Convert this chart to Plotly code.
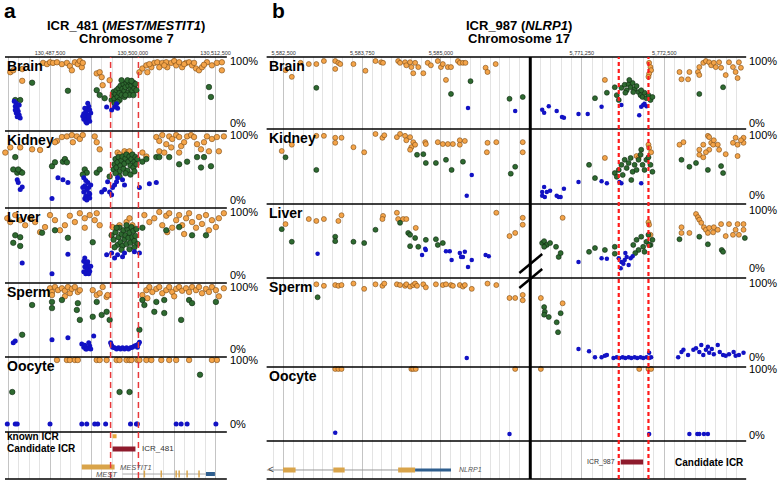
import plotly.graph_objects as go

# ---------------- panel a: ICR_481 (MEST/MESTIT1), chr7 ----------------
# points are (position in kb, methylation %)
A_BRAIN_HIGH = [(130481.5, 82), (130481.95, 85), (130483.3, 87), (130483.3, 68), (130486.45, 97), (130487.05, 95),
                (130487.5, 98), (130487.95, 97), (130488.55, 98), (130489.3, 95), (130490.05, 97), (130490.5, 92),
                (130490.8, 85), (130491.25, 98), (130491.7, 95), (130492.0, 100), (130492.3, 90), (130492.45, 97),
                (130494.55, 80), (130495.0, 82), (130495.3, 74), (130495.45, 61), (130496.5, 69),
                (130501.0, 82), (130501.45, 88), (130502.05, 93), (130502.2, 82), (130502.8, 90), (130503.25, 97),
                (130503.7, 98), (130504.0, 90), (130504.45, 97), (130505.05, 98), (130505.2, 90), (130505.8, 97),
                (130506.25, 100), (130506.55, 93), (130507.0, 98), (130507.45, 90), (130508.05, 97), (130508.5, 98),
                (130508.95, 93), (130509.55, 88), (130510.0, 85), (130510.45, 90), (130511.2, 98), (130511.95, 93),
                (130512.7, 97), (130513.45, 98), (130513.45, 85), (130502.5, 95), (130504.75, 93), (130507.75, 95),
                (130509.25, 97), (130510.75, 94)]
A_BRAIN_MID = [(130484.8, 65), (130490.2, 52), (130494.55, 53), (130495.0, 45), (130495.75, 40), (130482.25, 37),
               (130483.0, 37), (130511.5, 58), (130511.8, 42),
               (130496.8, 37), (130496.95, 44), (130497.1, 50), (130497.25, 39), (130497.4, 47), (130497.55, 53),
               (130497.7, 42), (130497.85, 56), (130498.0, 48), (130498.15, 60), (130498.3, 45), (130498.45, 55),
               (130498.6, 63), (130498.75, 52), (130498.9, 58), (130499.05, 65), (130499.2, 48), (130499.35, 60),
               (130499.5, 66), (130499.65, 55), (130499.8, 61), (130499.95, 52), (130500.1, 65), (130500.25, 56),
               (130500.4, 63), (130500.55, 53), (130498.0, 37), (130498.75, 42), (130499.5, 45), (130497.25, 32),
               (130497.7, 34), (130499.2, 69), (130499.8, 68), (130498.3, 69), (130498.9, 45), (130500.1, 45)]
A_BRAIN_LOW = [(130482.1, 35), (130482.4, 32), (130482.25, 27), (130482.55, 24), (130482.7, 19), (130482.4, 16),
               (130482.85, 13), (130482.55, 10), (130483.0, 8), (130482.25, 21), (130482.85, 29),
               (130493.2, 32), (130493.35, 27), (130493.05, 23), (130492.9, 18), (130493.5, 21), (130492.6, 15),
               (130493.2, 13), (130492.75, 10), (130493.35, 8), (130493.05, 5), (130492.9, 2), (130493.5, 3),
               (130492.6, 6), (130493.65, 16), (130492.75, 24), (130493.05, 0), (130493.35, 11), (130492.45, 11),
               (130496.05, 26), (130496.8, 21), (130497.25, 26), (130497.55, 31), (130497.7, 24)]

A_KIDNEY_HIGH = [(130488.55, 91), (130489.3, 97), (130490.05, 98), (130490.8, 100), (130491.55, 98), (130492.0, 94),
                 (130492.45, 100), (130490.95, 89), (130480.75, 73), (130481.5, 81), (130483.0, 81), (130484.8, 78),
                 (130486.0, 77), (130488.25, 89), (130494.25, 98), (130494.55, 89), (130495.0, 78), (130497.7, 73),
                 (130498.75, 75), (130499.2, 73), (130498.0, 70), (130499.5, 75), (130499.95, 67), (130501.45, 73),
                 (130502.05, 67), (130503.55, 97), (130504.0, 91), (130504.45, 100), (130505.05, 86), (130505.5, 98),
                 (130505.95, 94), (130506.55, 100), (130507.0, 97), (130507.3, 83), (130507.75, 89), (130508.2, 98),
                 (130508.8, 100), (130509.25, 97), (130509.7, 86), (130510.3, 78), (130510.75, 89), (130511.2, 98),
                 (130511.5, 75), (130511.95, 94), (130512.7, 97), (130513.0, 75), (130513.75, 98), (130504.0, 75),
                 (130504.75, 73), (130505.8, 81), (130507.0, 73)]
A_KIDNEY_MID = [(130482.25, 66), (130481.95, 47), (130482.55, 42), (130483.0, 44), (130483.3, 42), (130482.7, 47),
                (130487.8, 52), (130488.25, 58), (130489.45, 59), (130489.75, 63), (130490.05, 58), (130492.75, 47),
                (130493.05, 42), (130492.45, 39), (130494.55, 42), (130495.0, 47), (130496.5, 36),
                (130497.1, 47), (130497.25, 55), (130497.4, 63), (130497.55, 50), (130497.7, 58), (130497.85, 66),
                (130498.0, 44), (130498.15, 53), (130498.3, 61), (130498.45, 67), (130498.6, 48), (130498.75, 56),
                (130498.9, 64), (130499.05, 70), (130499.2, 45), (130499.35, 59), (130499.5, 67), (130499.65, 53),
                (130499.8, 63), (130499.95, 70), (130500.1, 50), (130500.25, 59), (130500.4, 66), (130500.55, 55),
                (130500.7, 63), (130498.9, 41), (130498.0, 36), (130499.65, 39), (130500.25, 44), (130497.4, 41),
                (130501.45, 59), (130502.05, 63), (130503.55, 66), (130504.0, 66), (130505.5, 66), (130507.0, 55),
                (130508.2, 59), (130509.7, 66), (130510.3, 50), (130510.75, 66), (130511.8, 52)]
A_KIDNEY_LOW = [(130482.55, 31), (130482.7, 27), (130483.3, 20), (130483.0, 16), (130487.8, 2), (130488.7, 34),
                (130489.45, 31), (130490.2, 27), (130492.6, 34), (130492.9, 30), (130493.2, 27), (130492.75, 22),
                (130493.35, 19), (130493.05, 16), (130492.6, 12), (130493.5, 9), (130492.9, 6), (130493.2, 3),
                (130492.75, 2), (130493.65, 23), (130493.35, 11), (130493.05, 0), (130492.45, 19), (130493.5, 3),
                (130495.3, 12), (130495.75, 16), (130496.2, 28), (130496.5, 12), (130496.8, 8), (130496.95, 19),
                (130497.25, 23), (130497.55, 28), (130497.7, 34), (130498.45, 31), (130498.75, 23), (130501.0, 19),
                (130502.5, 25), (130503.55, 27)]

A_LIVER_HIGH = [(130481.05, 90), (130481.5, 84), (130482.25, 95), (130483.0, 87), (130483.75, 79), (130484.5, 90),
                (130485.25, 84), (130486.75, 76), (130488.25, 87), (130489.75, 79), (130490.5, 94), (130491.25, 84),
                (130492.0, 98), (130492.75, 90), (130493.5, 95), (130494.25, 87), (130494.55, 98), (130495.0, 79),
                (130489.0, 71), (130486.0, 68), (130487.5, 95), (130492.75, 75), (130496.95, 76), (130498.0, 79),
                (130499.05, 84), (130499.95, 79), (130499.5, 90), (130501.75, 95), (130502.5, 84), (130503.25, 90),
                (130504.0, 100), (130504.45, 79), (130505.05, 94), (130505.5, 98), (130505.95, 75), (130506.55, 87),
                (130507.0, 95), (130507.45, 79), (130508.05, 90), (130508.5, 98), (130508.95, 84), (130509.55, 75),
                (130510.0, 92), (130510.45, 81), (130511.05, 95), (130511.5, 71), (130511.95, 87), (130512.55, 76),
                (130513.0, 90), (130513.75, 98), (130505.2, 68), (130507.75, 65)]
A_LIVER_MID = [(130482.25, 63), (130483.0, 60), (130481.95, 51), (130483.0, 46), (130486.3, 67), (130488.25, 71),
               (130490.2, 59), (130493.95, 52),
               (130496.8, 63), (130497.1, 56), (130497.4, 68), (130497.7, 48), (130497.85, 60), (130498.0, 75),
               (130498.15, 52), (130498.3, 65), (130498.45, 46), (130498.6, 71), (130498.75, 57), (130498.9, 63),
               (130499.05, 49), (130499.2, 73), (130499.35, 59), (130499.5, 67), (130499.65, 51), (130499.8, 76),
               (130499.95, 60), (130500.1, 70), (130500.25, 54), (130500.4, 62), (130500.55, 73), (130500.7, 49),
               (130497.25, 44), (130498.3, 40), (130499.5, 41), (130497.55, 75), (130499.05, 79), (130500.25, 44),
               (130501.45, 75), (130505.05, 71), (130507.0, 76), (130508.95, 63), (130511.05, 63)]
A_LIVER_LOW = [(130483.3, 19), (130487.8, 2), (130490.2, 33), (130492.6, 22), (130492.9, 19), (130493.2, 16),
               (130492.75, 13), (130493.35, 11), (130493.05, 8), (130492.6, 5), (130493.5, 6), (130492.9, 2),
               (130493.2, 21), (130493.65, 14), (130492.75, 27), (130493.35, 2), (130496.05, 32), (130496.8, 35),
               (130497.25, 27), (130497.7, 32), (130498.45, 29), (130498.75, 35), (130500.25, 37), (130501.0, 35)]

A_SPERM_HIGH = [(130487.5, 98), (130487.8, 92), (130488.25, 100), (130488.7, 95), (130489.3, 98), (130489.75, 94),
                (130490.2, 100), (130490.5, 90), (130490.8, 97), (130491.25, 100), (130491.7, 92), (130492.0, 95),
                (130487.8, 87), (130489.75, 85), (130493.95, 95), (130494.55, 87), (130495.0, 90), (130495.45, 100),
                (130496.05, 84), (130496.2, 87), (130501.45, 87), (130502.05, 95), (130502.5, 100), (130502.95, 92),
                (130503.55, 97), (130504.0, 100), (130504.45, 90), (130505.05, 95), (130505.5, 100), (130505.95, 92),
                (130506.55, 97), (130507.0, 100), (130507.45, 94), (130508.05, 98), (130508.5, 92), (130508.95, 100),
                (130509.55, 95), (130510.0, 100), (130510.45, 90), (130511.05, 97), (130511.5, 92), (130511.95, 100),
                (130512.55, 95), (130513.0, 85), (130513.75, 98), (130502.2, 82), (130506.25, 85)]
A_SPERM_MID = [(130484.8, 71), (130487.8, 76), (130487.8, 66), (130489.3, 79), (130491.7, 74), (130491.55, 63),
               (130492.0, 47), (130493.95, 52), (130494.55, 76), (130495.3, 55), (130496.05, 60), (130496.5, 47),
               (130483.3, 23), (130501.45, 79), (130501.75, 71), (130503.55, 76), (130503.25, 60), (130504.75, 79),
               (130504.75, 58), (130507.3, 47), (130508.5, 79), (130508.95, 74), (130512.55, 76), (130501.0, 31)]
A_SPERM_LOW = [(130481.95, 10), (130482.25, 13), (130487.8, 15), (130490.2, 18), (130494.1, 21),
               (130492.3, 8), (130492.6, 3), (130492.9, 0), (130493.2, 2), (130493.5, 5), (130492.75, 6),
               (130493.35, 10), (130493.05, 0), (130493.65, 0),
               (130496.65, 10), (130496.95, 3), (130497.25, 2), (130497.55, 0), (130497.85, 2), (130498.15, 0),
               (130498.45, 2), (130498.75, 0), (130499.05, 2), (130499.35, 0), (130499.65, 2), (130499.95, 3),
               (130500.25, 5), (130500.55, 6), (130500.85, 8), (130501.0, 11), (130496.8, 6), (130500.7, 3)]

A_OOCYTE_HIGH = [(130488.55, 100), (130490.05, 100), (130490.5, 100), (130491.25, 100), (130491.7, 100),
                 (130494.55, 100), (130495.0, 100), (130496.05, 100), (130497.55, 100), (130498.0, 100),
                 (130499.05, 100), (130499.5, 100), (130499.8, 100), (130500.7, 100), (130501.0, 100),
                 (130502.05, 100), (130502.8, 100), (130504.3, 100), (130505.5, 100), (130506.55, 100),
                 (130508.5, 100), (130511.95, 100), (130512.7, 100)]
A_OOCYTE_MID = [(130481.8, 50), (130498.0, 50), (130499.5, 50), (130510.15, 77)]
A_OOCYTE_LOW = [(130481.05, 0), (130482.25, 0), (130482.55, 0), (130487.5, 0), (130492.3, 0), (130493.05, 0),
                (130494.25, 0), (130494.7, 0), (130495.9, 0), (130499.65, 0), (130500.55, 0), (130500.7, 0),
                (130506.55, 0), (130507.3, 0), (130508.2, 0), (130512.55, 0)]

A_RANGE = [130480.7, 130514.2]
A_GRID = [130481.25, 130487.5, 130493.75, 130500.0, 130506.25, 130512.5]
A_TICKS = {130487.5: '130,487,500', 130500.0: '130,500,000', 130512.5: '130,512,500'}
A_ICR_BOUNDS = [130496.65, 130500.85]
A_KNOWN_ICR = [130496.95, 130497.55]
A_CANDIDATE_ICR = [130496.95, 130500.4]
MESTIT1 = [130492.3, 130497.25]
MEST = [130498.45, 130512.55]
MEST_EXONS = [130501.75, 130504.3, 130506.55, 130507.0, 130508.2, 130510.0]
MEST_UTR = [130511.05, 130512.4]

# ---------------- panel b: ICR_987 (NLRP1), chr17 ----------------
B_BRAIN_HIGH = [(5582.53, 85), (5582.63, 74), (5582.77, 97), (5582.90, 95), (5583.02, 95), (5583.14, 100),
                (5583.32, 100), (5583.32, 87), (5583.37, 97), (5583.40, 95), (5583.61, 95), (5583.80, 84),
                (5583.96, 100), (5584.05, 98), (5584.08, 97), (5584.32, 100), (5584.35, 97), (5584.43, 98),
                (5584.45, 93), (5584.51, 98), (5584.53, 90), (5584.56, 80), (5584.59, 97), (5584.64, 90),
                (5584.72, 80), (5584.79, 97), (5584.84, 93), (5584.95, 100), (5585.00, 90), (5585.03, 95),
                (5585.11, 90), (5585.16, 90), (5585.08, 69), (5585.27, 100), (5585.30, 97), (5585.35, 97),
                (5585.39, 97), (5585.71, 89), (5585.74, 82), (5585.87, 95),
                (5771.60, 69), (5772.27, 97), (5772.29, 90), (5772.30, 85), (5772.27, 79), (5772.26, 74),
                (5772.73, 82), (5772.76, 70), (5772.86, 70), (5772.88, 82), (5773.01, 82), (5773.03, 90),
                (5773.09, 97), (5773.13, 100), (5773.18, 98), (5773.21, 93), (5773.25, 97), (5773.28, 90),
                (5773.33, 98), (5773.36, 89), (5773.48, 98), (5773.54, 90), (5773.58, 82), (5773.61, 72),
                (5773.63, 98), (5773.66, 89), (5773.43, 77), (5773.03, 77)]
B_BRAIN_MID = [(5583.02, 56), (5585.16, 46), (5585.47, 67), (5586.09, 38), (5586.30, 41),
               (5771.45, 39), (5771.63, 48), (5771.75, 57), (5771.78, 44), (5771.81, 36), (5771.85, 56),
               (5771.90, 61), (5771.93, 52), (5771.96, 62), (5771.99, 57), (5772.02, 64), (5772.05, 54),
               (5772.08, 59), (5772.11, 49), (5772.14, 44), (5772.17, 41), (5772.20, 48), (5772.23, 39),
               (5772.26, 44), (5772.29, 36), (5772.32, 41), (5771.91, 48), (5772.03, 49), (5772.15, 52),
               (5771.97, 69), (5773.03, 46), (5773.39, 57)]
B_BRAIN_LOW = [(5585.43, 23), (5586.18, 18), (5770.65, 20), (5770.68, 15), (5770.75, 26), (5770.87, 18),
               (5770.95, 8), (5770.98, 7), (5771.20, 13), (5771.34, 13), (5771.55, 25), (5771.85, 28),
               (5772.12, 11), (5772.15, 25), (5772.18, 28), (5772.20, 30), (5772.23, 26)]

B_KIDNEY_HIGH = [(5582.47, 73), (5582.63, 83), (5583.02, 97), (5583.14, 97), (5583.32, 94), (5583.32, 86),
                 (5583.42, 94), (5583.61, 79), (5583.78, 71), (5583.96, 100), (5584.07, 94), (5584.10, 98),
                 (5584.30, 95), (5584.35, 100), (5584.43, 97), (5584.45, 90), (5584.51, 95), (5584.56, 87),
                 (5584.53, 79), (5584.51, 75), (5584.59, 83), (5584.75, 87), (5584.76, 84), (5584.95, 87),
                 (5585.03, 84), (5585.11, 84), (5585.19, 84), (5585.30, 90), (5585.30, 83), (5585.38, 89),
                 (5585.74, 86), (5585.73, 71), (5585.88, 87), (5586.30, 87), (5586.30, 71),
                 (5771.60, 62), (5772.08, 65), (5772.11, 62), (5772.26, 83), (5772.27, 78), (5772.30, 71),
                 (5772.73, 83), (5772.79, 87), (5773.03, 67), (5773.09, 83), (5773.16, 97), (5773.18, 95),
                 (5773.21, 86), (5773.24, 83), (5773.25, 90), (5773.31, 83), (5773.18, 75), (5773.13, 71),
                 (5773.33, 75), (5773.43, 68), (5773.54, 86), (5773.58, 94), (5773.61, 83), (5773.61, 65),
                 (5773.70, 94), (5773.70, 86), (5773.66, 90), (5773.09, 63), (5773.03, 75)]
B_KIDNEY_MID = [(5582.53, 63), (5583.02, 43), (5584.62, 67), (5584.72, 68), (5584.76, 54), (5584.92, 54),
                (5585.08, 59), (5585.17, 43), (5585.35, 56), (5586.11, 37), (5586.18, 48),
                (5771.36, 51), (5771.45, 30), (5771.75, 38), (5771.78, 32), (5771.81, 43), (5771.85, 51),
                (5771.90, 59), (5771.93, 46), (5771.96, 54), (5771.99, 62), (5772.02, 40), (5772.05, 51),
                (5772.08, 43), (5772.11, 59), (5772.14, 67), (5772.17, 51), (5772.20, 43), (5772.23, 59),
                (5772.26, 63), (5772.29, 51), (5772.32, 40), (5771.87, 35), (5772.00, 27), (5772.15, 75),
                (5772.76, 59), (5772.88, 48), (5772.98, 54), (5773.16, 43), (5773.36, 49), (5773.39, 38)]
B_KIDNEY_LOW = [(5585.41, 2), (5585.49, 35), (5770.65, 8), (5770.68, 16), (5770.72, 8), (5770.69, 0),
                (5770.77, 10), (5770.65, 2), (5770.87, 2), (5770.90, 0), (5770.93, 0), (5770.98, 13),
                (5771.20, 24), (5771.55, 25), (5771.63, 22), (5771.82, 24), (5771.85, 22), (5772.15, 22)]

B_LIVER_HIGH = [(5582.53, 76), (5582.90, 84), (5583.02, 81), (5583.14, 84), (5583.37, 81), (5583.42, 90),
                (5584.08, 89), (5584.07, 84), (5584.30, 94), (5584.32, 84), (5584.40, 84), (5584.45, 84),
                (5584.60, 70), (5585.88, 94), (5586.09, 57), (5586.18, 62), (5586.30, 86), (5586.30, 75),
                (5770.96, 86), (5772.26, 79), (5772.27, 75), (5772.29, 59), (5772.98, 92), (5773.01, 87),
                (5773.03, 83), (5773.06, 78), (5773.10, 71), (5773.13, 67), (5773.16, 62), (5773.18, 70),
                (5773.24, 63), (5773.25, 71), (5773.31, 67), (5773.43, 57), (5773.48, 76), (5773.54, 59),
                (5773.58, 67), (5773.61, 76), (5773.63, 59), (5773.70, 76), (5773.70, 67), (5772.76, 71),
                (5772.88, 62), (5772.76, 62), (5773.36, 76)]
B_LIVER_MID = [(5582.47, 68), (5582.63, 48), (5583.32, 56), (5583.32, 49), (5583.61, 48), (5583.78, 46),
               (5583.96, 67), (5584.35, 78), (5584.48, 62), (5584.51, 59), (5584.51, 41), (5584.59, 54),
               (5584.64, 40), (5584.76, 51), (5584.92, 52), (5584.95, 43), (5585.03, 46),
               (5770.65, 46), (5770.68, 49), (5770.72, 43), (5770.77, 46), (5770.68, 40), (5770.86, 40),
               (5770.90, 24), (5770.93, 30), (5771.36, 32), (5771.45, 38), (5771.60, 35), (5771.75, 40),
               (5771.75, 29), (5772.03, 43), (5772.08, 51), (5772.11, 35), (5772.15, 56), (5772.18, 40),
               (5772.23, 48), (5772.26, 59), (5772.29, 43), (5772.32, 51), (5772.06, 30), (5772.20, 32),
               (5772.27, 43), (5772.73, 52), (5773.03, 56), (5773.16, 44), (5773.37, 35), (5773.39, 32),
               (5773.72, 54)]
B_LIVER_LOW = [(5583.04, 29), (5584.70, 27), (5584.75, 37), (5584.76, 35), (5585.08, 33), (5585.14, 33),
               (5585.17, 19), (5585.30, 30), (5585.32, 24), (5585.35, 24), (5585.38, 32), (5585.43, 8),
               (5585.49, 19), (5585.71, 27), (5585.76, 25),
               (5771.20, 16), (5771.55, 22), (5771.63, 21), (5771.81, 22), (5771.85, 16), (5771.90, 19),
               (5771.93, 24), (5771.96, 11), (5771.84, 6), (5771.88, 13), (5771.99, 22), (5772.02, 25),
               (5771.91, 30)]

B_SPERM_HIGH = [(5583.02, 97), (5583.14, 95), (5583.32, 96), (5583.37, 95), (5583.42, 96), (5583.61, 98),
                (5583.78, 91), (5583.96, 97), (5584.07, 95), (5584.10, 98), (5584.30, 97), (5584.35, 96),
                (5584.43, 95), (5584.45, 97), (5584.51, 94), (5584.56, 96), (5584.59, 98), (5584.62, 95),
                (5584.72, 97), (5584.76, 93), (5584.92, 97), (5585.03, 96), (5585.08, 97), (5585.16, 96),
                (5585.19, 95), (5585.30, 96), (5585.35, 94), (5585.38, 96), (5585.49, 91), (5585.74, 98),
                (5585.88, 96), (5586.09, 79), (5586.18, 79), (5586.30, 83), (5586.30, 76), (5770.63, 79),
                (5770.96, 72)]
B_SPERM_MID = [(5583.04, 80), (5770.68, 67), (5770.69, 61), (5770.68, 57), (5770.75, 54), (5770.87, 47),
               (5770.89, 34), (5770.93, 59)]
B_SPERM_LOW = [(5585.41, 0), (5771.20, 12), (5771.36, 9), (5771.45, 1), (5771.55, 1), (5771.60, 3),
               (5771.63, 4), (5771.73, 0), (5771.78, 1), (5771.82, 0), (5771.87, 1), (5771.91, 0), (5771.96, 1),
               (5772.00, 0), (5772.05, 1), (5772.09, 0), (5772.14, 1), (5772.18, 0), (5772.23, 1), (5772.27, 0),
               (5772.30, 1), (5772.27, 7),
               (5772.71, 1), (5772.76, 8), (5772.79, 11), (5772.86, 4), (5772.94, 11), (5772.98, 13),
               (5773.03, 8), (5773.06, 17), (5773.09, 4), (5773.13, 11), (5773.16, 15), (5773.18, 7),
               (5773.22, 12), (5773.25, 5), (5773.31, 17), (5773.34, 8), (5773.39, 4), (5773.43, 3),
               (5773.48, 5), (5773.55, 8), (5773.58, 3), (5773.63, 4), (5773.70, 7)]

B_OOCYTE_HIGH = [(5583.32, 100), (5583.37, 100), (5583.42, 100), (5584.53, 100), (5584.56, 100), (5584.60, 100),
                 (5586.18, 100), (5770.63, 100), (5772.12, 100), (5772.26, 100), (5772.30, 100)]
B_OOCYTE_MID = []
B_OOCYTE_LOW = [(5583.32, 2), (5586.09, 0), (5772.27, 0), (5772.88, 0), (5773.00, 0), (5773.03, 0),
                (5773.10, 0), (5773.16, 0)]

B_LEFT_RANGE = [5582.23, 5586.42]
B_RIGHT_RANGE = [5770.47, 5773.74]
B_TICKS = {5582.5: '5,582,500', 5583.75: '5,583,750', 5585.0: '5,585,000',
           5771.25: '5,771,250', 5772.5: '5,772,500'}
B_ICR_BOUNDS = [5771.81, 5772.26]
B_CANDIDATE_ICR = [5771.84, 5772.18]
NLRP1 = [5582.23, 5585.16]
NLRP1_EXONS = [[5582.49, 5582.69], [5583.29, 5583.47], [5584.32, 5584.59]]
NLRP1_UTR = [5584.59, 5585.16]

TISSUES = ['Brain', 'Kidney', 'Liver', 'Sperm', 'Oocyte']
A_DATA = {'Brain': (A_BRAIN_HIGH, A_BRAIN_MID, A_BRAIN_LOW),
          'Kidney': (A_KIDNEY_HIGH, A_KIDNEY_MID, A_KIDNEY_LOW),
          'Liver': (A_LIVER_HIGH, A_LIVER_MID, A_LIVER_LOW),
          'Sperm': (A_SPERM_HIGH, A_SPERM_MID, A_SPERM_LOW),
          'Oocyte': (A_OOCYTE_HIGH, A_OOCYTE_MID, A_OOCYTE_LOW)}
B_DATA = {'Brain': (B_BRAIN_HIGH, B_BRAIN_MID, B_BRAIN_LOW),
          'Kidney': (B_KIDNEY_HIGH, B_KIDNEY_MID, B_KIDNEY_LOW),
          'Liver': (B_LIVER_HIGH, B_LIVER_MID, B_LIVER_LOW),
          'Sperm': (B_SPERM_HIGH, B_SPERM_MID, B_SPERM_LOW),
          'Oocyte': (B_OOCYTE_HIGH, B_OOCYTE_MID, B_OOCYTE_LOW)}

# ---------------- layout helpers (pixel positions of the 784x486 page) ----------------
W, H = 784, 486
FONT = 'Liberation Sans, Arial, sans-serif'


def fx(p):
    return p / W


def fy(p):
    return 1 - p / H


A_ROWS = [57, 131, 208, 283, 357, 432, 479]
B_ROWS = [57, 129, 204, 278, 367, 441, 479]
A_YR = [[-12.9, 106.5], [-12.5, 106.3], [-12.7, 106.3], [-12.9, 106.5], [-12.5, 104.7]]
B_YR = [[-11.5, 106.6], [-11.1, 107.9], [-9.5, 107.9], [-11.8, 105.3], [-10.8, 103.0]]
B_LABEL_SHIFT = [(0, -1), (-1, 2), (-1, 4), (-1, 1), (0, -1)]  # (100%, 0%) nudges in px
B_SPLIT = 5700.0

MARK = [dict(color='#f4a449', line=dict(color='#7a4a14', width=0.6)),
        dict(color='#2e6a30', line=dict(color='#0e260f', width=0.6)),
        dict(color='#1212c4', line=dict(color='#1212c4', width=0))]
SIZES_A = [5.5, 5.5, 5]
SIZES_B = [5, 5, 4.5]


def yid(i):
    return 'y' if i == 1 else 'y%d' % i


def ykey(i):
    return 'yaxis' if i == 1 else 'yaxis%d' % i


fig = go.Figure()


def add_points(pts, k, xa, ya, sizes):
    if not pts:
        return
    fig.add_trace(go.Scatter(x=[p[0] for p in pts], y=[p[1] for p in pts], mode='markers',
                             marker=dict(size=sizes[k], **MARK[k]), xaxis=xa, yaxis=ya,
                             cliponaxis=False, showlegend=False, hoverinfo='skip'))


def add_seg(x0, x1, level, color, width, xa, ya):
    fig.add_trace(go.Scatter(x=[x0, x1], y=[level, level], mode='lines', line=dict(color=color, width=width),
                             xaxis=xa, yaxis=ya, showlegend=False, hoverinfo='skip'))


def text(t, xref, x, yref, y, size, xanchor='left', yanchor='middle', color='black', xshift=0, yshift=0):
    return dict(text=t, xref=xref, x=x, yref=yref, y=y, xanchor=xanchor, yanchor=yanchor, xshift=xshift,
                yshift=yshift, showarrow=False, font=dict(size=size, color=color))


layout_axes = {}
shapes = []
ann = []

# panel a rows
for r, t in enumerate(TISSUES):
    i = r + 1
    layout_axes[ykey(i)] = dict(domain=[fy(A_ROWS[r + 1]), fy(A_ROWS[r])], range=A_YR[r], visible=False,
                                anchor='x', fixedrange=True)
    for k, pts in enumerate(A_DATA[t]):
        add_points(pts, k, 'x', yid(i), SIZES_A)
    ann.append(text('<b>%s</b>' % t, 'x domain', 0, '%s domain' % yid(i), 1, 14, yanchor='top', yshift=1))
    ann.append(text('100%', 'x domain', 1, yid(i), 100, 11, xshift=1))
    ann.append(text('0%', 'x domain', 1, yid(i), 0, 11, xshift=1))

# panel b rows
for r, t in enumerate(TISSUES):
    i = r + 7
    layout_axes[ykey(i)] = dict(domain=[fy(B_ROWS[r + 1]), fy(B_ROWS[r])], range=B_YR[r], visible=False,
                                anchor='x2', fixedrange=True)
    for k, pts in enumerate(B_DATA[t]):
        add_points([p for p in pts if p[0] < B_SPLIT], k, 'x2', yid(i), SIZES_B)
        add_points([p for p in pts if p[0] >= B_SPLIT], k, 'x3', yid(i), SIZES_B)
    ann.append(text('<b>%s</b>' % t, 'x2 domain', 0, '%s domain' % yid(i), 1, 14, yanchor='top', yshift=1))
    ann.append(text('100%', 'x3 domain', 1, yid(i), 100, 11, xshift=1, yshift=B_LABEL_SHIFT[r][0]))
    ann.append(text('0%', 'x3 domain', 1, yid(i), 0, 11, xshift=1, yshift=B_LABEL_SHIFT[r][1]))

# gene / ICR tracks
layout_axes['yaxis6'] = dict(domain=[fy(A_ROWS[6]), fy(A_ROWS[5])], range=[0, 1], visible=False,
                             anchor='x', fixedrange=True)
layout_axes['yaxis12'] = dict(domain=[fy(B_ROWS[6]), fy(B_ROWS[5])], range=[0, 1], visible=False,
                              anchor='x2', fixedrange=True)
TAN, RED, BLUE = '#d9a44a', '#8e1b2c', '#2f5f8f'

add_seg(A_KNOWN_ICR[0], A_KNOWN_ICR[1], 0.91, '#e8a83a', 4, 'x', 'y6')
add_seg(A_CANDIDATE_ICR[0], A_CANDIDATE_ICR[1], 0.64, RED, 5, 'x', 'y6')
add_seg(MESTIT1[0], MESTIT1[1], 0.255, TAN, 5, 'x', 'y6')
add_seg(MEST[0], MEST[1], 0.106, '#aaaaaa', 1, 'x', 'y6')
add_seg(MEST_UTR[0], MEST_UTR[1], 0.106, BLUE, 4, 'x', 'y6')
fig.add_trace(go.Scatter(x=MEST_EXONS, y=[0.106] * len(MEST_EXONS), mode='markers',
                         marker=dict(symbol='line-ns', size=5, line=dict(color=TAN, width=1.5)),
                         xaxis='x', yaxis='y6', showlegend=False, hoverinfo='skip'))

add_seg(NLRP1[0], NLRP1[1], 0.237, '#999999', 1, 'x2', 'y12')
for e in NLRP1_EXONS:
    add_seg(e[0], e[1], 0.237, TAN, 5, 'x2', 'y12')
add_seg(NLRP1_UTR[0], NLRP1_UTR[1], 0.237, BLUE, 3, 'x2', 'y12')
add_seg(B_CANDIDATE_ICR[0], B_CANDIDATE_ICR[1], 0.447, RED, 5, 'x3', 'y12')

ann += [
    text('<b>known ICR</b>', 'x domain', 0, 'y6', 0.9, 10),
    text('<b>Candidate ICR</b>', 'x domain', 0, 'y6', 0.64, 10),
    text('ICR_481', 'x', A_CANDIDATE_ICR[1], 'y6', 0.64, 8, color='#333', xshift=5),
    text('<i>MESTIT1</i>', 'x', MESTIT1[1], 'y6', 0.255, 7.5, color='#555', xshift=3),
    text('<i>MEST</i>', 'x', MEST[0], 'y6', 0.106, 7.5, xanchor='right', color='#555', xshift=-3),
    text('ICR_987', 'x3', B_CANDIDATE_ICR[0], 'y12', 0.447, 7, xanchor='right', color='#333', xshift=-4),
    text('<b>Candidate ICR</b>', 'x3 domain', 1, 'y12', 0.447, 10, xanchor='right'),
    text('<i>NLRP1</i>', 'x2', NLRP1_UTR[1], 'y12', 0.237, 7, color='#555', xshift=6),
    text('&lt;', 'x2 domain', 0, 'y12', 0.237, 10, color='#444', xshift=-1),
    # panel letters and titles
    text('<b>a</b>', 'paper', fx(2), 'paper', fy(10), 21),
    text('<b>b</b>', 'paper', fx(271), 'paper', fy(10), 21),
    text('<b>ICR_481 (<i>MEST/MESTIT1</i>)</b>', 'paper', fx(127), 'paper', fy(26), 13, xanchor='center'),
    text('<b>Chromosome 7</b>', 'paper', fx(127), 'paper', fy(38.5), 13, xanchor='center'),
    text('<b>ICR_987 (<i>NLRP1</i>)</b>', 'paper', fx(522), 'paper', fy(26), 13, xanchor='center'),
    text('<b>Chromosome 17</b>', 'paper', fx(522), 'paper', fy(38.5), 13, xanchor='center'),
]

# row borders
for b in A_ROWS:
    shapes.append(dict(type='line', xref='paper', x0=fx(5), x1=fx(228), yref='paper', y0=fy(b), y1=fy(b),
                       line=dict(color='black', width=1.6)))
for b in B_ROWS:
    shapes.append(dict(type='line', xref='paper', x0=fx(268), x1=fx(750), yref='paper', y0=fy(b), y1=fy(b),
                       line=dict(color='black', width=1.6)))
# axis break in panel b
shapes.append(dict(type='line', xref='x3 domain', x0=0, x1=0, yref='paper', y0=fy(B_ROWS[6]), y1=fy(B_ROWS[0]),
                   line=dict(color='black', width=3)))
for dy in (0, 15):
    shapes.append(dict(type='line', xref='paper', x0=fx(522), x1=fx(545), yref='paper',
                       y0=fy(273 + dy), y1=fy(254 + dy), line=dict(color='black', width=2.5)))
# ICR boundaries
for v in A_ICR_BOUNDS:
    shapes.append(dict(type='line', xref='x', x0=v, x1=v, yref='paper', y0=fy(478), y1=fy(A_ROWS[0]),
                       line=dict(color='#e8383a', width=1.5, dash='6px,4px')))
for v in B_ICR_BOUNDS:
    shapes.append(dict(type='line', xref='x3', x0=v, x1=v, yref='paper', y0=fy(B_ROWS[6]), y1=fy(B_ROWS[0]),
                       line=dict(color='#ff1a1a', width=2.2, dash='4px,3px')))


def xaxis(dom, rng, anchor, ticks, grid, tick0, dtick):
    return dict(domain=dom, range=rng, anchor=anchor, side='top', tickmode='array', tickvals=grid,
                ticktext=[ticks.get(g, '') for g in grid], ticks='', showline=False, zeroline=False,
                showgrid=True, gridcolor='#c4c4c4', gridwidth=1, tickfont=dict(size=5.5, color='#333'),
                minor=dict(tickmode='linear', tick0=tick0, dtick=dtick, showgrid=True,
                           gridcolor='#e3e3e3', gridwidth=1),
                fixedrange=True)


B_GRID_L = [t for t in B_TICKS if t < B_SPLIT]
B_GRID_R = [t for t in B_TICKS if t >= B_SPLIT]
fig.update_layout(
    width=W, height=H, margin=dict(l=0, r=0, t=0, b=0),
    paper_bgcolor='white', plot_bgcolor='white',
    font=dict(family=FONT, color='black'),
    xaxis=xaxis([fx(5), fx(228)], A_RANGE, 'y', A_TICKS, A_GRID, A_GRID[0], 1.5625),
    xaxis2=xaxis([fx(268), fx(533)], B_LEFT_RANGE, 'y7', B_TICKS, B_GRID_L, B_GRID_L[0], 0.15625),
    xaxis3=xaxis([fx(533), fx(750)], B_RIGHT_RANGE, 'y7', B_TICKS, B_GRID_R, B_GRID_R[0], 0.15625),
    annotations=ann, shapes=shapes,
    **layout_axes
)

fig.write_html("out.html", config={'displayModeBar': False},
               post_script="document.body.style.margin='0px';")
